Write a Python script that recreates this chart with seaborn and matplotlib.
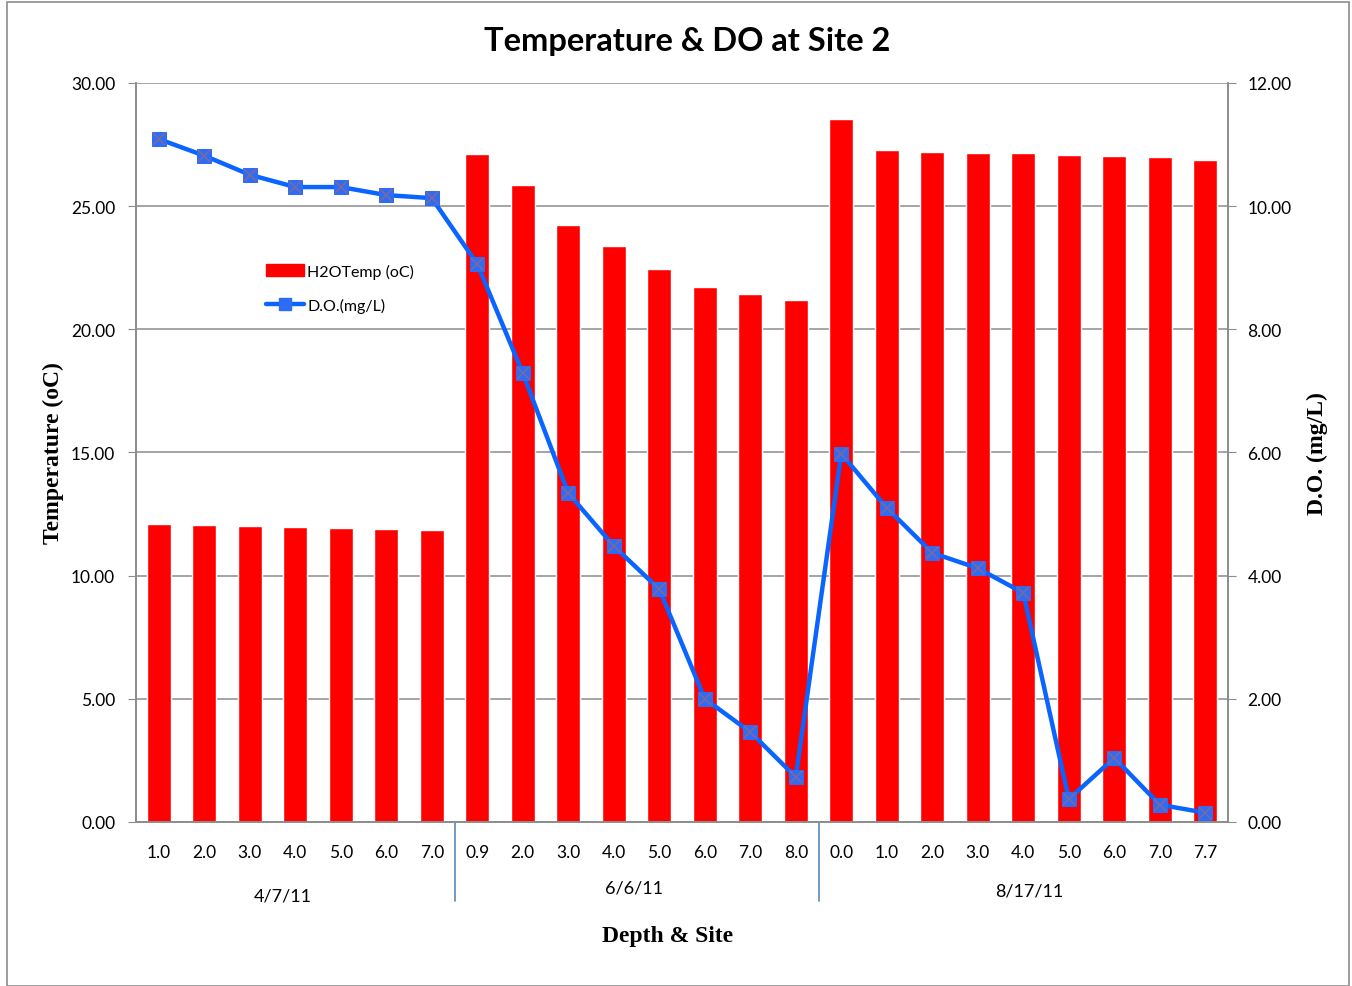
import numpy as np
import pandas as pd
import matplotlib
matplotlib.use("Agg")
import matplotlib.pyplot as plt
import seaborn as sns
from matplotlib.patches import Rectangle
from matplotlib.lines import Line2D
from matplotlib.ticker import FormatStrFormatter

# Data
depths = ["1.0", "2.0", "3.0", "4.0", "5.0", "6.0", "7.0",
          "0.9", "2.0", "3.0", "4.0", "5.0", "6.0", "7.0", "8.0",
          "0.0", "1.0", "2.0", "3.0", "4.0", "5.0", "6.0", "7.0", "7.7"]
groups = ["4/7/11", "6/6/11", "8/17/11"]
group_sizes = [7, 8, 9]
h2o_temp = [12.1, 12.05, 12.0, 11.98, 11.92, 11.9, 11.87,
            27.12, 25.86, 24.24, 23.39, 22.45, 21.72, 21.44, 21.19,
            28.54, 27.28, 27.2, 27.16, 27.16, 27.08, 27.04, 27.0, 26.88]
do_mgl = [11.09, 10.82, 10.51, 10.31, 10.31, 10.18, 10.13,
          9.06, 7.29, 5.34, 4.48, 3.78, 2.0, 1.46, 0.73,
          5.98, 5.10, 4.37, 4.12, 3.72, 0.37, 1.04, 0.28, 0.15]

df = pd.DataFrame({"idx": np.arange(len(depths)), "depth": depths,
                   "temp": h2o_temp, "do": do_mgl})

sns.set_style("white")
plt.rcParams["font.family"] = ["Lato", "DejaVu Sans"]
plt.rcParams.update({"text.color": "black", "axes.labelcolor": "black",
                     "xtick.color": "black", "ytick.color": "black"})

fig = plt.figure(figsize=(13.52, 9.87), dpi=100)
ax = fig.add_axes([0.1006, 0.1662, 0.8077, 0.7487])

# outer chart border
fig.patches.append(Rectangle((7 / 1352, 0), 1342 / 1352, 984 / 987, transform=fig.transFigure,
                             fill=False, edgecolor="#8c8c8c", linewidth=1.2))

sns.barplot(data=df, x="idx", y="temp", color="#ff0000", saturation=1,
            width=0.52, ax=ax, zorder=2)
ax.set_ylim(0, 30)
ax.set_xlim(-0.5, len(depths) - 0.5)
ax.set_yticks(np.arange(0, 30.1, 5))
ax.yaxis.set_major_formatter(FormatStrFormatter("%.2f"))
ax.grid(axis="y", color="#8c8c8c", linewidth=1.1, zorder=0)
ax.set_axisbelow(True)
ax.set_xticks(df["idx"])
ax.set_xticklabels(depths, fontsize=12.5)
ax.tick_params(axis="x", length=0, pad=16)
ax.tick_params(axis="y", labelsize=12.5, length=6, color="#8c8c8c", labelcolor="black",
               direction="out", pad=9)
for s in ["left", "bottom", "right"]:
    ax.spines[s].set_color("#8c8c8c")
    ax.spines[s].set_linewidth(1.2)
ax.spines["top"].set_visible(False)
ax.set_xlabel("")
ax.set_ylabel("Temperature (oC)", fontsize=17, fontweight="bold",
              family="Liberation Serif", labelpad=5)

ax2 = ax.twinx()
sns.lineplot(data=df, x="idx", y="do", ax=ax2, color="#0a64ff", linewidth=3.2,
             marker="s", markersize=10, markerfacecolor="#2f6cf5",
             markeredgecolor="#2f6cf5", zorder=3)
ax2.plot(df["idx"], df["do"], linestyle="none", marker="x", markersize=8,
         color="#7a6a9c", markeredgewidth=1.2, zorder=4)
ax2.set_ylim(0, 12)
ax2.set_yticks(np.arange(0, 12.1, 2))
ax2.yaxis.set_major_formatter(FormatStrFormatter("%.2f"))
ax2.tick_params(axis="y", labelsize=12.5, length=6, color="#8c8c8c", labelcolor="black",
                direction="out", pad=8)
for s in ["left", "bottom", "right"]:
    ax2.spines[s].set_color("#8c8c8c")
    ax2.spines[s].set_linewidth(1.2)
ax2.spines["top"].set_visible(False)
ax2.set_xlabel("")
ax2.set_ylabel("D.O. (mg/L)", fontsize=17, fontweight="bold",
               family="Liberation Serif", labelpad=11)

# group separators and labels
trans = ax.get_xaxis_transform()
bounds = np.cumsum(group_sizes)
for b in bounds[:-1]:
    ax.plot([b - 0.5, b - 0.5], [0, -0.107], transform=trans, color="#5a86b8",
            linewidth=1.2, clip_on=False)
label_x = [2.73, 10.45, 19.14]
label_y = [-0.099, -0.089, -0.093]
for g, x, y in zip(groups, label_x, label_y):
    ax.text(x, y, g, transform=trans, ha="center", va="center", fontsize=13)

ax.text(0.487, -0.153, "Depth & Site", transform=ax.transAxes, ha="center", va="center",
        fontsize=17, fontweight="bold", family="Liberation Serif")
fig.text(0.508, 0.958, "Temperature & DO at Site 2", ha="center", va="center",
         fontsize=23.5, fontweight="bold")

handles = [Rectangle((0, 0), 1, 1, color="#ff0000"),
           Line2D([0], [0], color="#0a64ff", linewidth=3.2, marker="s", markersize=8,
                  markerfacecolor="#2f6cf5", markeredgecolor="#2f6cf5")]
fig.legend(handles, ["H2OTemp (oC)", "D.O.(mg/L)"], loc="center left",
           bbox_to_anchor=(0.186, 0.707), frameon=False, fontsize=11.5,
           handlelength=2.4, handletextpad=0.2, labelspacing=1.2)

fig.savefig("out.png", dpi=100)
